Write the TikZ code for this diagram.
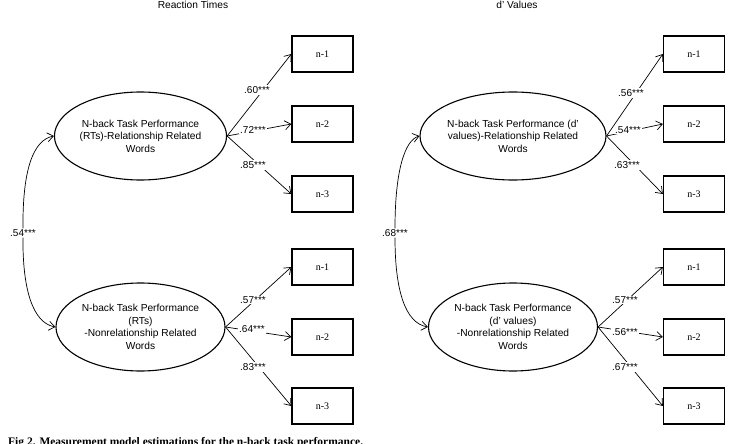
\documentclass[tikz,border=0pt]{standalone}
\usepackage{fontspec}
\setmainfont{Liberation Sans}
\newfontfamily\seriffont{Liberation Serif}
\usetikzlibrary{shapes.geometric,arrows.meta}
\tikzset{
  latent/.style={ellipse,draw,line width=1.1pt,minimum width=169pt,minimum height=88pt,inner sep=0pt,align=center,font=\fontsize{10.2}{12.5}\selectfont},
  obs/.style={rectangle,draw,line width=1.3pt,minimum width=61pt,minimum height=36pt,inner sep=0pt,font=\seriffont\fontsize{10}{12}\selectfont},
  load/.style={-{Straight Barb[length=6pt,width=9pt]},line width=0.7pt},
  cov/.style={{Straight Barb[length=6pt,width=9pt]}-,line width=0.7pt},
  coef/.style={fill=white,inner sep=1pt,font=\fontsize{10}{12}\selectfont},
  ttl/.style={inner sep=0pt,font=\fontsize{10.2}{12}\selectfont},
}
\begin{document}
\begin{tikzpicture}[x=1pt,y=-1pt]
\useasboundingbox (0,0) rectangle (729,444);
% titles
\node[ttl] (t1) at (193,4.5) {Reaction Times};
\node[ttl] (t2) at (517,4.5) {d' Values};
% latent variables
\node[latent] (E1) at (140.5,136) {N-back Task Performance\\(RTs)-Relationship Related\\Words};
\node[latent] (E2) at (140.5,327) {N-back Task Performance\\(RTs)\\-Nonrelationship Related\\Words};
\node[latent] (E3) at (513,136) {N-back Task Performance (d'\\values)-Relationship Related\\Words};
\node[latent] (E4) at (513,327) {N-back Task Performance\\(d' values)\\-Nonrelationship Related\\Words};
% observed
\node[obs] (A1) at (322.5,54) {n-1};
\node[obs] (A2) at (322.5,124) {n-2};
\node[obs] (A3) at (322.5,194) {n-3};
\node[obs] (B1) at (322.5,267) {n-1};
\node[obs] (B2) at (322.5,337) {n-2};
\node[obs] (B3) at (322.5,406) {n-3};
\node[obs] (C1) at (694,54) {n-1};
\node[obs] (C2) at (694,124) {n-2};
\node[obs] (C3) at (694,194) {n-3};
\node[obs] (D1) at (694,267) {n-1};
\node[obs] (D2) at (694,337) {n-2};
\node[obs] (D3) at (694,406) {n-3};
% loadings
\foreach \e/\b in {E1/A1,E1/A2,E1/A3,E2/B1,E2/B2,E2/B3,E3/C1,E3/C2,E3/C3,E4/D1,E4/D2,E4/D3}
  \draw[load] (\e.east) -- (\b.west);
\node[coef] (l1) at (257,90) {.60***};
\node[coef] (l2) at (253,130) {.72***};
\node[coef] (l3) at (253,165) {.85***};
\node[coef] (l4) at (253,300) {.57***};
\node[coef] (l5) at (252,329) {.64***};
\node[coef] (l6) at (253,367) {.83***};
\node[coef] (r1) at (631,93) {.56***};
\node[coef] (r2) at (628,130) {.54***};
\node[coef] (r3) at (627,165) {.63***};
\node[coef] (r4) at (625,300) {.57***};
\node[coef] (r5) at (625,332) {.56***};
\node[coef] (r6) at (625,367) {.67***};
% covariances
\node[coef] (k1) at (23,233) {.54***};
\node[coef] (k2) at (395,233) {.68***};
\draw[cov] (E1.west) .. controls (33,140) and (22.5,170) .. (k1);
\draw[cov] (E2.west) .. controls (33,323) and (22.5,290) .. (k1);
\draw[cov] (E3.west) .. controls (405,140) and (395,170) .. (k2);
\draw[cov] (E4.west) .. controls (405,323) and (395,290) .. (k2);
% caption (cut off at the bottom, as in the reference)
\node[anchor=base west,inner sep=0pt,font=\seriffont\bfseries\fontsize{11.5}{13}\selectfont] (cap) at (8,445.6) {Fig 2. Measurement model estimations for the n-back task performance.};
\end{tikzpicture}
\end{document}
